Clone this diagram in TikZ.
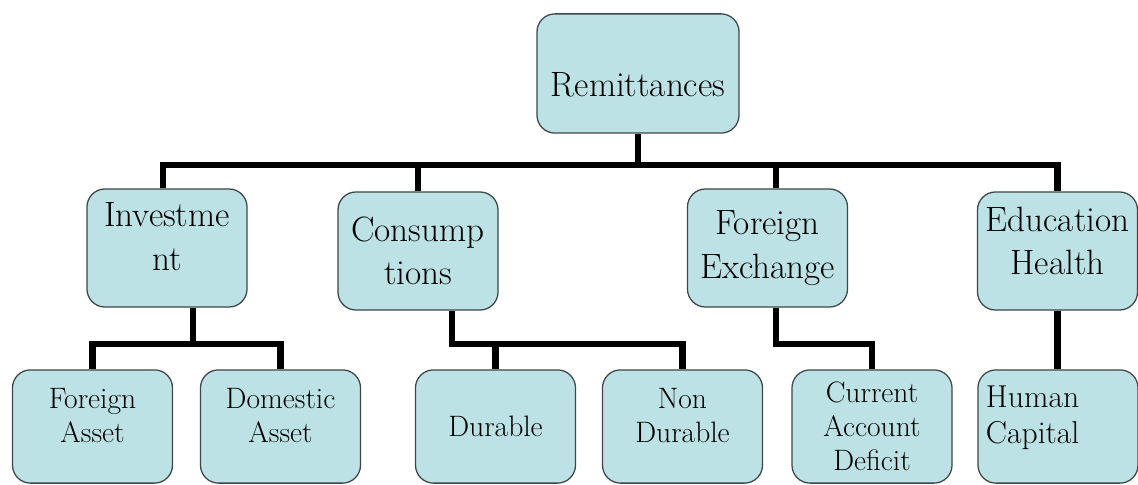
\documentclass[tikz,border=0pt]{standalone}
\usetikzlibrary{positioning,calc}

\definecolor{boxfill}{RGB}{188,226,229}
\definecolor{boxline}{RGB}{62,70,72}

\tikzset{
  box/.style={draw=boxline, fill=boxfill, line width=0.9pt, rounded corners=0.45cm, align=center, inner sep=2pt},
  topbox/.style={box, minimum width=4cm, minimum height=2.95cm, font=\fontsize{25}{31}\selectfont},
  leafbox/.style={box, minimum width=4cm, minimum height=2.83cm, font=\fontsize{21}{24}\selectfont},
  wire/.style={line width=4.3pt, line join=miter}
}

\begin{document}
\begin{tikzpicture}[x=0.025cm, y=-0.025cm]
  \useasboundingbox (0,0) rectangle (1138,485);

  \node[topbox, minimum width=5.05cm, minimum height=2.98cm, text height=33pt, text depth=0pt] (rem) at (638,73.5) {Remittances};

  \node[topbox] (inv) at (167,248) {Investme\\nt\\[-24pt]\strut};
  \node[topbox] (con) at (418,251) {Consump\\tions};
  \node[topbox] (fx) at (767.5,248) {Foreign\\Exchange};
  \node[topbox] (edu) at (1057.5,251) {Education\\Health\\[-26pt]\strut};

  \node[leafbox] (fa) at (92.5,426.5) {Foreign\\Asset\\[-15pt]\strut};
  \node[leafbox] (da) at (280.5,426.5) {Domestic\\Asset\\[-15pt]\strut};
  \node[leafbox] (du) at (495.5,426.5) {Durable};
  \node[leafbox] (nd) at (682.5,426.5) {Non\\Durable\\[-15pt]\strut};
  \node[leafbox] (cad) at (872,426.5) {Current\\Account\\Deficit};
  \node[leafbox, text width=3.6cm, align=left, inner xsep=0.2cm, font=\fontsize{22.5}{26}\selectfont] (hc) at (1058,426.5) {Human\\Capital\\[-17pt]\strut};

  \coordinate (bus) at (0,165);
  \coordinate (lowbus) at (0,344);

  \draw[wire] (rem.south) -- (rem.south |- bus);
  \draw[wire] ([xshift=-0.1cm]inv.north) |- (edu.north |- bus) -- (edu.north);
  \draw[wire] (con.north) -- (con.north |- bus);
  \draw[wire] ([xshift=0.21cm]fx.north) -- ([xshift=0.21cm]fx.north |- bus);

  \draw[wire] ([xshift=0.65cm]inv.south) -- ([xshift=0.65cm]inv.south |- lowbus);
  \draw[wire] (fa.north) |- (da.north |- lowbus) -- (da.north);

  \draw[wire] ([xshift=0.85cm]con.south) |- (nd.north |- lowbus) -- (nd.north);
  \draw[wire] (du.north) -- (du.north |- lowbus);

  \draw[wire] ([xshift=0.21cm]fx.south) |- (cad.north |- lowbus) -- (cad.north);

  \draw[wire] (edu.south) -- (edu.south |- hc.north);
\end{tikzpicture}
\end{document}
